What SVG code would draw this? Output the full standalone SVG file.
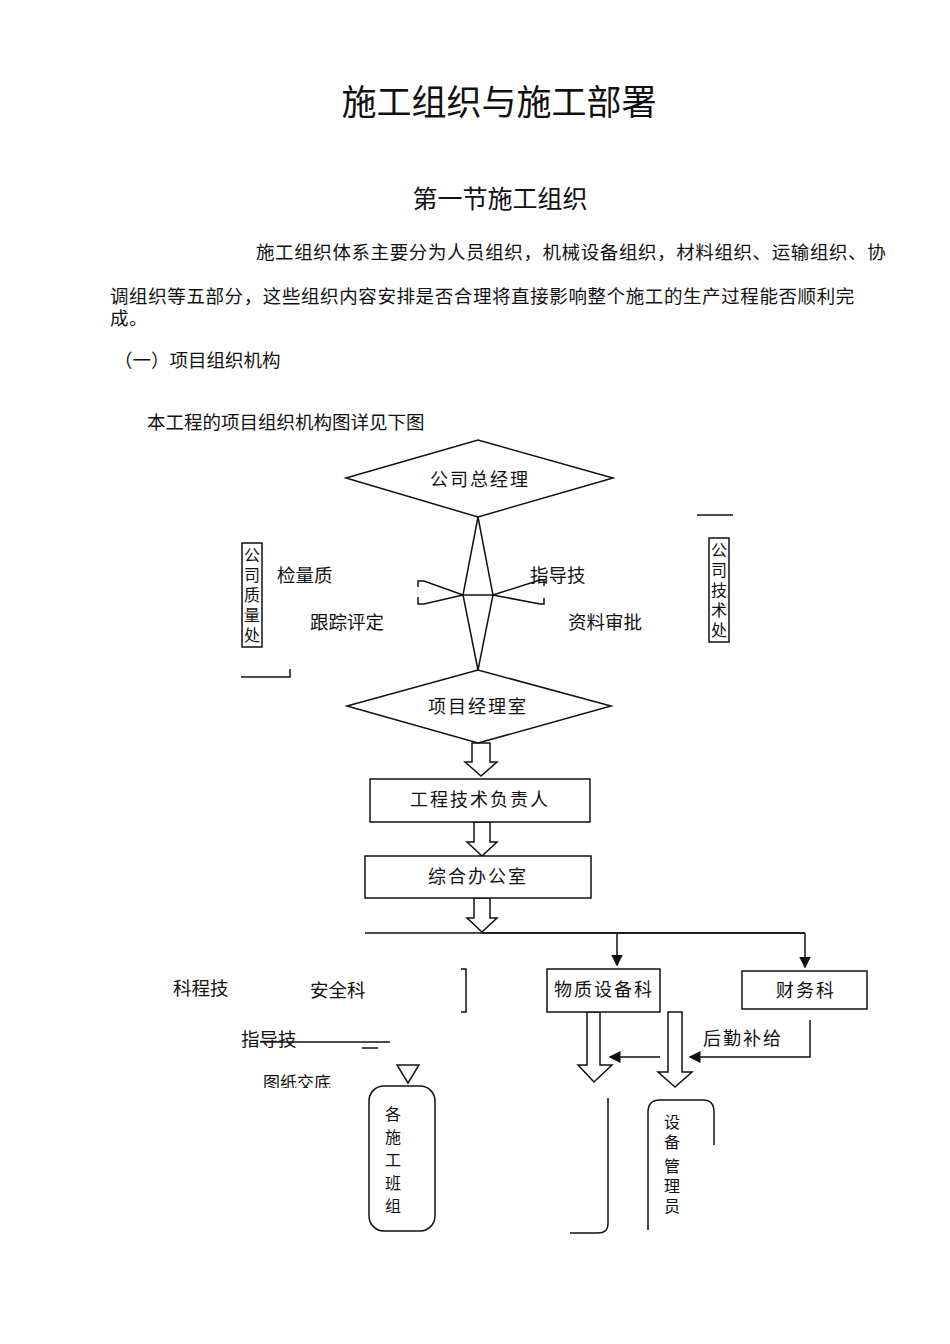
<svg xmlns="http://www.w3.org/2000/svg" width="950" height="1344" viewBox="0 0 950 1344">
<style>
text{font-family:"Noto Sans CJK SC","Noto Sans",sans-serif;fill:#111}
.s{fill:none;stroke:#111;stroke-width:1.5}
.w{fill:#fff;stroke:#111;stroke-width:1.5}
.n{font-size:18px;letter-spacing:2px}
.b{font-size:18.5px}
.p{font-size:18.5px;letter-spacing:0.6px}
.v{font-size:16px}
</style>
<defs><marker id="a" markerWidth="8" markerHeight="8" refX="7" refY="4" orient="auto"><path d="M0,0L8,4L0,8z" fill="#111"/></marker></defs>
<rect width="950" height="1344" fill="#fff"/>
<text x="499" y="115" font-size="35" text-anchor="middle">施工组织与施工部署</text>
<text x="500" y="208" font-size="25" text-anchor="middle">第一节施工组织</text>
<text x="256" y="259" class="p">施工组织体系主要分为人员组织，机械设备组织，材料组织、运输组织、协</text>
<text x="110" y="303" class="p">调组织等五部分，这些组织内容安排是否合理将直接影响整个施工的生产过程能否顺利完</text>
<text x="110" y="325" class="p">成。</text>
<text x="114" y="367" class="b">（一）项目组织机构</text>
<text x="147" y="429" class="b">本工程的项目组织机构图详见下图</text>
<g id="connectors">
<path class="s" d="M478,517L463,595L478,670L493,595Z M463,595H493"/>
<path class="s" d="M463,595L424,581H418V587 M463,595L424,604H418V597 M493,595L540,580H544V586 M493,595L540,604H544V598"/>
<path class="s" d="M241,677H290V669 M697,515H733"/>
<path class="w" d="M472,743H490V762H497L481,776L465,762H472Z"/>
<path class="w" d="M474,822H490V842H497L482,856L467,842H474Z"/>
<path class="w" d="M474,898H490V918H497L482,932L467,918H474Z"/>
<path class="s" d="M365,933H805" stroke="#999"/>
<path class="s" d="M482,933H805"/>
<path class="s" d="M617,933V965" marker-end="url(#a)"/>
<path class="s" d="M805,933V967" marker-end="url(#a)"/>
<path class="s" d="M461,969H466V1012H461"/>
<path class="s" d="M260,1042H390 M362,1048H378"/>
<path class="w" d="M397,1065H419L408,1083Z"/>
<path class="w" d="M587,1012H600V1065H612L594,1082L578,1065H587Z"/>
<path class="w" d="M668,1012H682V1072H692L675,1087L658,1072H668Z"/>
<path class="s" d="M810,1020V1057H690" marker-end="url(#a)"/>
<path class="s" d="M660,1057H610" marker-end="url(#a)"/>
<path class="s" d="M608,1098V1224Q608,1233 598,1233H570"/>
<path class="s" d="M648,1230V1112Q648,1100 660,1100H703Q714,1100 714,1112V1145"/>
</g>
<g id="n1"><path class="w" d="M346,478L478,440L613,478L478,517Z"/><text x="480" y="486" class="n" text-anchor="middle">公司总经理</text></g>
<g id="n2"><rect class="w" x="242" y="543" width="20" height="104"/><text class="v" text-anchor="middle"><tspan x="252" y="561">公</tspan><tspan x="252" y="581">司</tspan><tspan x="252" y="601">质</tspan><tspan x="252" y="621">量</tspan><tspan x="252" y="641">处</tspan></text></g>
<g id="n3"><rect class="w" x="709" y="538" width="20" height="104"/><text class="v" text-anchor="middle"><tspan x="719" y="556">公</tspan><tspan x="719" y="576">司</tspan><tspan x="719" y="596">技</tspan><tspan x="719" y="616">术</tspan><tspan x="719" y="636">处</tspan></text></g>
<text x="277" y="582" class="b">检量质</text>
<text x="310" y="629" class="b">跟踪评定</text>
<text x="530" y="582" class="b">指导技</text>
<text x="568" y="629" class="b">资料审批</text>
<g id="n4"><path class="w" d="M347,706L478,670L611,706L478,743Z"/><text x="478" y="713" class="n" text-anchor="middle">项目经理室</text></g>
<g id="n5"><rect class="w" x="370" y="779" width="220" height="43"/><text x="480" y="806" class="n" text-anchor="middle">工程技术负责人</text></g>
<g id="n6"><rect class="w" x="365" y="856" width="226" height="42"/><text x="478" y="883" class="n" text-anchor="middle">综合办公室</text></g>
<g id="n7"><rect class="w" x="547" y="969" width="113" height="43"/><text x="604" y="996" class="n" text-anchor="middle">物质设备科</text></g>
<g id="n8"><rect class="w" x="742" y="971" width="125" height="38"/><text x="806" y="997" class="n" text-anchor="middle">财务科</text></g>
<text x="173" y="995" class="b">科程技</text>
<text x="310" y="997" class="b">安全科</text>
<text x="241" y="1046" class="b">指导技</text>
<text x="703" y="1045" class="n">后勤补给</text>
<text x="263" y="1089" font-size="17">图纸交底</text>
<rect x="250" y="1088" width="150" height="10" fill="#fff"/>
<g id="n9"><rect class="w" x="369" y="1086" width="66" height="145" rx="15"/><text class="v" text-anchor="middle"><tspan x="393" y="1120">各</tspan><tspan x="393" y="1143">施</tspan><tspan x="393" y="1166">工</tspan><tspan x="393" y="1189">班</tspan><tspan x="393" y="1212">组</tspan></text></g>
<g id="n10"><text class="v" text-anchor="middle"><tspan x="672" y="1128">设</tspan><tspan x="672" y="1148">备</tspan><tspan x="672" y="1172">管</tspan><tspan x="672" y="1192">理</tspan><tspan x="672" y="1212">员</tspan></text></g>
</svg>
